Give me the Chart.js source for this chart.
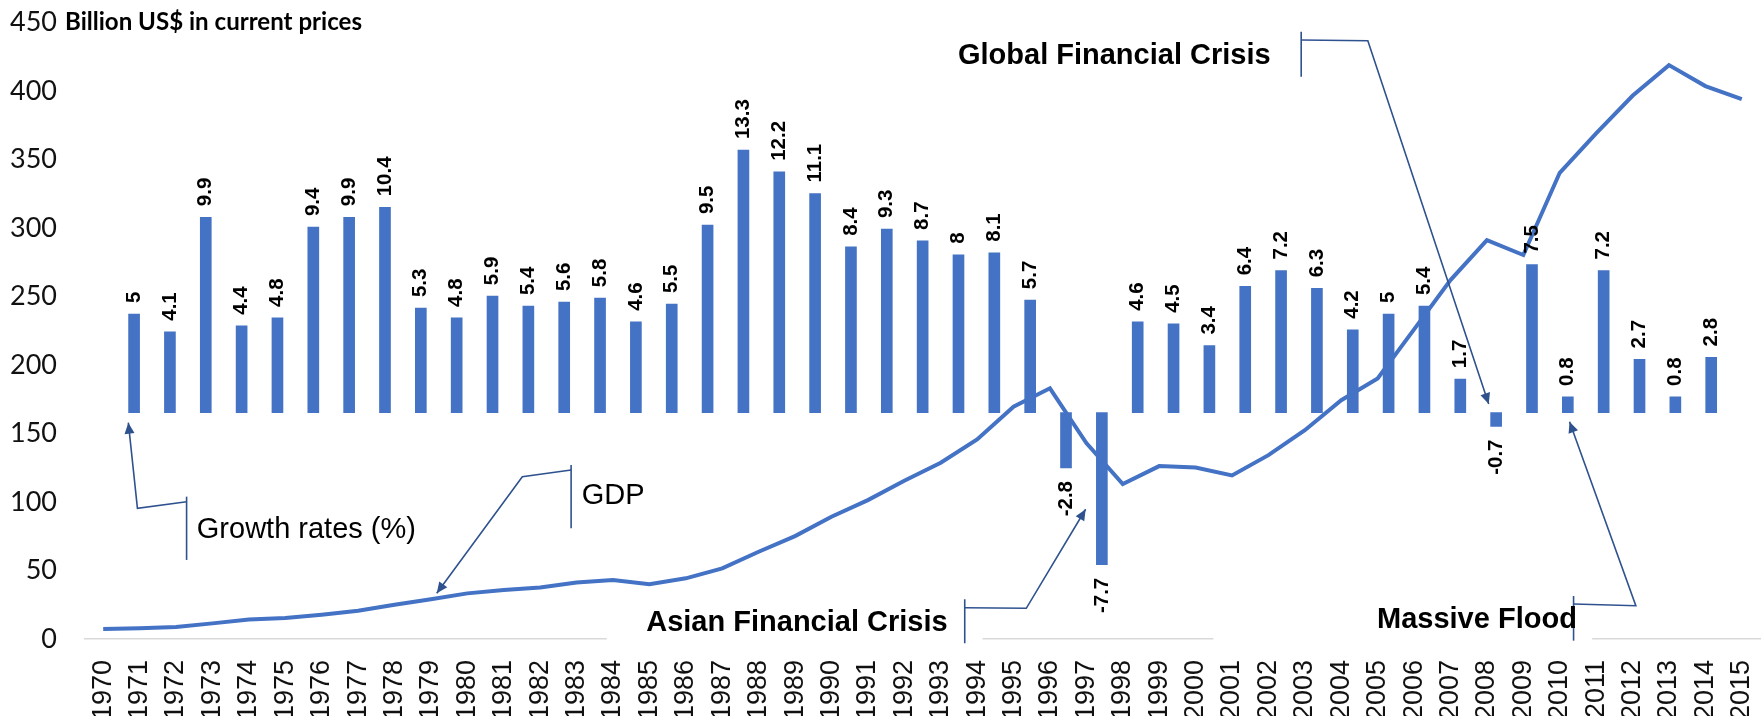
<!DOCTYPE html>
<html><head><meta charset="utf-8">
<script src="https://cdn.jsdelivr.net/npm/chart.js@4.4.1/dist/chart.umd.min.js"></script>
<style>html,body{margin:0;padding:0;background:#fff;overflow:hidden}canvas{display:block}</style>
</head><body>
<canvas id="c" width="1764" height="716"></canvas>
<script>
// ---- data ----
const years = ['1970','1971','1972','1973','1974','1975','1976','1977','1978','1979',
  '1980','1981','1982','1983','1984','1985','1986','1987','1988','1989',
  '1990','1991','1992','1993','1994','1995','1996','1997','1998','1999',
  '2000','2001','2002','2003','2004','2005','2006','2007','2008','2009',
  '2010','2011','2012','2013','2014','2015'];
const gdpBillionUSD = [7.3, 7.8, 8.8, 11.4, 14.3, 15.3, 17.7, 20.6, 25, 29,
  33.3, 35.7, 37.6, 41.3, 43, 39.9, 44.3, 51.6, 63.7, 75.1,
  89.2, 101.4, 115.5, 128.7, 145.7, 169.5, 183, 143, 113.1, 126.2,
  125.2, 119.4, 134.2, 152.4, 174.3, 190.1, 226, 262, 291.2, 280.3,
  340.3, 369.1, 396.5, 418.9, 403.6, 394.1];
// growth rates (%) for 1970..2014 (no bar for 2015)
const growthRates = [5, 4.1, 9.9, 4.4, 4.8, 9.4, 9.9, 10.4, 5.3, 4.8,
  5.9, 5.4, 5.6, 5.8, 4.6, 5.5, 9.5, 13.3, 12.2, 11.1,
  8.4, 9.3, 8.7, 8, 8.1, 5.7, -2.8, -7.7, 4.6, 4.5,
  3.4, 6.4, 7.2, 6.3, 4.2, 5, 5.4, 1.7, -0.7, 7.5,
  0.8, 7.2, 2.7, 0.8, 2.8];
const axisTitle = 'Billion US$ in current prices';

// ---- callout annotations, in (year, billion US$) coordinates ----
const callouts = [
  {text:'Growth rates (%)', bold:false, align:'left', tx:1972.57, ty:79.6,
   bracket:[1972.29, 103.9, 57.7], path:[[1972.29,100.2],[1970.94,95.4],[1970.69,157.9]]},
  {text:'GDP', bold:false, align:'left', tx:1983.14, ty:104.4,
   bracket:[1982.85, 127, 80.8], path:[[1982.85,123.3],[1981.51,118.4],[1979.16,33.4]]},
  {text:'Asian Financial Crisis', bold:true, align:'right', tx:1993.19, ty:11.9,
   box:[1983.83, 1994.15, 32, -4.4],
   bracket:[1993.66, 29, -3.1], path:[[1993.66,22.8],[1995.35,22.4],[1996.98,94.7]]},
  {text:'Global Financial Crisis', bold:true, align:'right', tx:2002.06, ty:425.5,
   bracket:[2002.90, 443.2, 410.4], path:[[2002.90,437.2],[2004.73,436.7],[2008.05,171.5]]},
  {text:'Massive Flood', bold:true, align:'right', tx:2010.47, ty:13.9,
   box:[2000.49, 2010.89, 32, -4.4],
   bracket:[2010.38, 31.4, -1.2], path:[[2010.38,25.5],[2012.09,24.3],[2010.27,158.6]]}
];

const BLUE = '#4472C4';
const CALLOUT = '#2F528F';
const ARIAL = "'Liberation Sans', Arial, Helvetica, sans-serif";

const barLabels = {
  id: 'barLabels',
  afterDatasetsDraw(chart) {
    const meta = chart.getDatasetMeta(1);
    const ctx = chart.ctx;
    ctx.save();
    ctx.font = 'bold 20.5px ' + ARIAL;
    ctx.fillStyle = '#000';
    ctx.textBaseline = 'middle';
    meta.data.forEach((el, i) => {
      const v = growthRates[i];
      if (v == null) return;
      ctx.save();
      if (v >= 0) { ctx.translate(el.x, el.y - 11); ctx.rotate(-Math.PI / 2); ctx.textAlign = 'left'; }
      else { ctx.translate(el.x, el.y + 13); ctx.rotate(-Math.PI / 2); ctx.textAlign = 'right'; }
      ctx.fillText(String(v), 0, 0);
      ctx.restore();
    });
    ctx.restore();
  }
};

const annotations = {
  id: 'annotations',
  afterDraw(chart) {
    const {ctx, scales: {x, y}, chartArea} = chart;
    const px = yr => x.getPixelForValue(yr - 1970);
    const py = v => y.getPixelForValue(v);
    ctx.save();
    // white text boxes that interrupt the axis line
    ctx.fillStyle = '#fff';
    callouts.forEach(c => {
      if (!c.box) return;
      const a = px(c.box[0]), b = px(c.box[1]), t = py(c.box[2]), u = py(c.box[3]);
      ctx.fillRect(a, t, b - a, u - t);
    });
    // leader lines
    ctx.strokeStyle = CALLOUT; ctx.fillStyle = CALLOUT; ctx.lineWidth = 1.6;
    callouts.forEach(c => {
      const bx = px(c.bracket[0]);
      ctx.beginPath();
      ctx.moveTo(bx, py(c.bracket[1])); ctx.lineTo(bx, py(c.bracket[2]));
      ctx.stroke();
      ctx.beginPath();
      const pts = c.path.map(p => [px(p[0]), py(p[1])]);
      ctx.moveTo(pts[0][0], pts[0][1]);
      for (let i = 1; i < pts.length; i++) ctx.lineTo(pts[i][0], pts[i][1]);
      ctx.stroke();
      const [ax, ay] = pts[pts.length - 1], [kx, ky] = pts[pts.length - 2];
      const ang = Math.atan2(ay - ky, ax - kx);
      const L = 11, W = 5;
      ctx.beginPath();
      ctx.moveTo(ax, ay);
      ctx.lineTo(ax - L * Math.cos(ang) + W * Math.sin(ang), ay - L * Math.sin(ang) - W * Math.cos(ang));
      ctx.lineTo(ax - L * Math.cos(ang) - W * Math.sin(ang), ay - L * Math.sin(ang) + W * Math.cos(ang));
      ctx.closePath();
      ctx.fill();
    });
    // texts
    ctx.fillStyle = '#000';
    ctx.textBaseline = 'middle';
    callouts.forEach(c => {
      ctx.font = (c.bold ? 'bold ' : '') + '29px ' + ARIAL;
      ctx.textAlign = c.align;
      ctx.fillText(c.text, px(c.tx), py(c.ty));
    });
    // axis title
    ctx.textAlign = 'left';
    ctx.font = "bold 20px Lato, 'Open Sans', sans-serif";
    const w = ctx.measureText(axisTitle).width;
    const size = 20 * 297 / w;
    ctx.font = 'bold ' + size.toFixed(2) + "px Lato, 'Open Sans', sans-serif";
    ctx.fillText(axisTitle, chartArea.left - 20, chartArea.top);
    ctx.restore();
  }
};

new Chart(document.getElementById('c'), {
  type: 'line',
  data: {
    labels: years,
    datasets: [
      {
        type: 'line', label: 'GDP', data: gdpBillionUSD,
        xAxisID: 'x', yAxisID: 'y',
        borderColor: BLUE, borderWidth: 4, pointRadius: 0, tension: 0, fill: false
      },
      {
        type: 'bar', label: 'Growth rates (%)',
        data: growthRates.map((v, i) => ({x: Number(years[i]), y: v})),
        xAxisID: 'xb', yAxisID: 'y2',
        backgroundColor: BLUE, barThickness: 11, borderWidth: 0
      }
    ]
  },
  options: {
    responsive: false, animation: false, devicePixelRatio: 1,
    layout: {padding: {top: 22.5, right: 4, left: 0, bottom: 0}},
    plugins: {legend: {display: false}, tooltip: {enabled: false}},
    scales: {
      x: {
        type: 'category', position: 'bottom', offset: true,
        grid: {display: false, drawTicks: false},
        border: {display: true, color: '#D9D9D9', width: 1.5},
        ticks: {autoSkip: false, minRotation: 90, maxRotation: 90, padding: 21,
          color: '#111', font: {family: ARIAL, size: 27}},
        afterFit: s => { s.height = 77; s.paddingLeft = 0; s.paddingRight = 0; s.paddingTop = 0; s.paddingBottom = 0; }
      },
      xb: {
        type: 'linear', display: false, offset: false,
        min: 1968.784, max: 2015.515
      },
      y: {
        type: 'linear', position: 'left', min: 0, max: 450,
        grid: {display: false, drawTicks: false},
        border: {display: false},
        ticks: {stepSize: 50, padding: 28, color: '#111',
          font: {family: "Lato, 'Open Sans', sans-serif", size: 27}},
        afterFit: s => { s.width = 85; s.paddingTop = 0; s.paddingBottom = 0; s.paddingLeft = 0; s.paddingRight = 0; }
      },
      y2: {
        type: 'linear', display: false, min: -11.46, max: 19.76
      }
    }
  },
  plugins: [barLabels, annotations]
});
</script>
</body></html>
